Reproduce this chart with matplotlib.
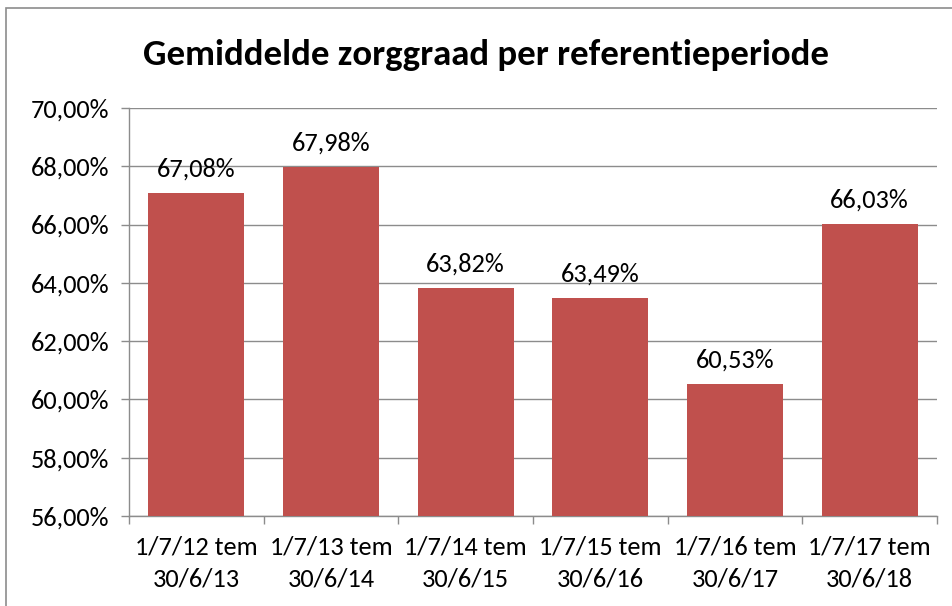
import matplotlib.pyplot as plt
from matplotlib.patches import Rectangle
from matplotlib.ticker import FuncFormatter, MultipleLocator
import numpy as np

plt.rcParams['font.family'] = ['Carlito', 'Lato', 'DejaVu Sans']

# Data
periods = ['1/7/12 tem\n30/6/13', '1/7/13 tem\n30/6/14', '1/7/14 tem\n30/6/15',
           '1/7/15 tem\n30/6/16', '1/7/16 tem\n30/6/17', '1/7/17 tem\n30/6/18']
values = [67.08, 67.98, 63.82, 63.49, 60.53, 66.03]

fig = plt.figure(figsize=(9.53, 6.06), dpi=100)
ax = fig.add_axes([129 / 953, 1 - 516 / 606, (937 - 129) / 953, (516 - 108) / 606])

# Outer chart frame (cut off at right and bottom)
fig.patches.append(Rectangle((6 / 953, -0.1), 1.2, 1 - 8 / 606 + 0.1,
                             transform=fig.transFigure, fill=False,
                             edgecolor='#8c8c8c', linewidth=1.2))

x = np.arange(len(values))
ax.bar(x, values, width=0.715, color='#C0504D', zorder=3)

for xi, v in zip(x, values):
    ax.annotate(f'{v:.2f}%'.replace('.', ','), (xi, v), xytext=(0, 9),
                textcoords='offset points', ha='center', va='bottom', fontsize=19)

ax.set_ylim(56, 70)
ax.set_xlim(-0.5, len(values) - 0.5)
ax.yaxis.set_major_locator(MultipleLocator(2))
ax.yaxis.set_major_formatter(FuncFormatter(lambda v, p: f'{v:.2f}%'.replace('.', ',')))
ax.grid(axis='y', color='#8c8c8c', linewidth=1, zorder=0)

ax.set_xticks(x)
ax.set_xticklabels(periods, fontsize=19, linespacing=1.5)
ax.tick_params(axis='x', length=0, pad=14)
ax.set_xticks(np.arange(len(values) + 1) - 0.5, minor=True)
ax.tick_params(axis='x', which='minor', length=6, color='#8c8c8c', width=1)
ax.tick_params(axis='y', length=6, color='#8c8c8c', width=1, labelsize=19, pad=8)

for s in ['top', 'right']:
    ax.spines[s].set_visible(False)
for s in ['left', 'bottom']:
    ax.spines[s].set_color('#8c8c8c')
    ax.spines[s].set_linewidth(1)

fig.text(486 / 953, 1 - 55 / 606, 'Gemiddelde zorggraad per referentieperiode',
         ha='center', va='center', fontsize=26.5, fontweight='bold')

fig.savefig('out.png', dpi=100)
